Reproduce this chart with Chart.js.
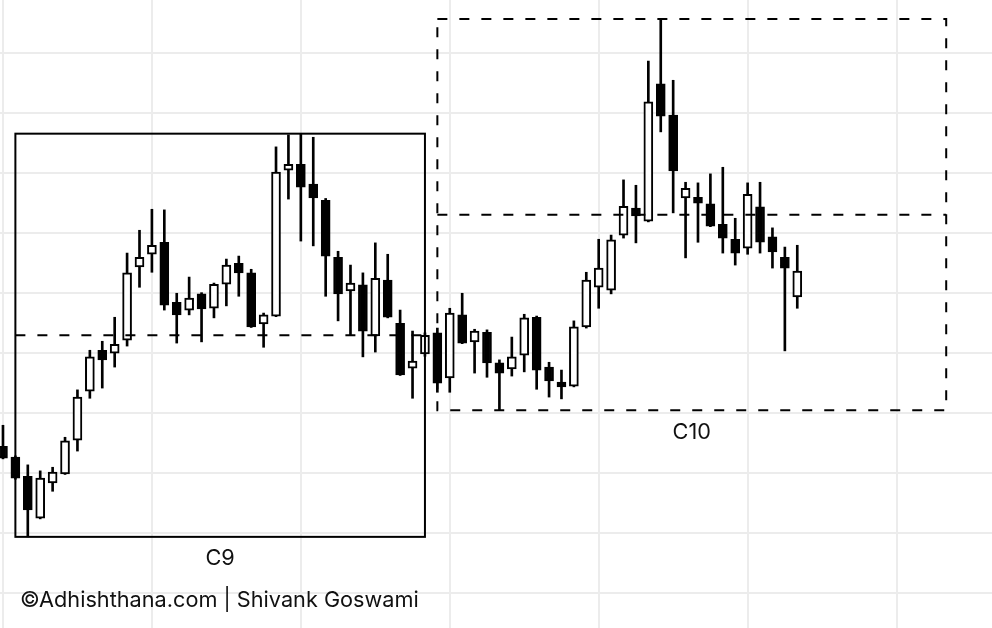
<!DOCTYPE html>
<html>
<head>
<meta charset="utf-8">
<script src="https://cdn.jsdelivr.net/npm/chart.js@4.4.1/dist/chart.umd.min.js"></script>
<style>
  html, body { margin: 0; padding: 0; background: #fff; }
  #wrap { width: 992px; height: 628px; position: relative; }
</style>
</head>
<body>
<div id="wrap"><canvas id="cycleChart"></canvas></div>
<script>
// OHLC per candle (price units)
const opens = [34.4, 32.6, 29.4, 22.4, 28.3, 29.8, 35.4, 43.6, 50.4, 49.9,
  52.1, 64.3, 66.4, 68.4, 58.4, 57.1, 59.8, 57.4, 61.4, 64.9,
  63.3, 54.8, 56.1, 80.4, 81.4, 78.1, 75.4, 65.9, 60.3, 61.3,
  52.8, 62.1, 54.9, 47.4, 49.8, 53.3, 45.8, 56.3, 51.8, 53.4,
  48.3, 47.3, 49.6, 55.9, 47.6, 45.1, 44.4, 54.3, 60.9, 60.4,
  69.6, 74.1, 71.9, 94.8, 89.6, 75.8, 75.9, 74.8, 71.4, 68.9,
  67.4, 74.3, 69.3, 65.9, 59.3];
const highs = [37.9, 32.8, 31.3, 30.3, 30.9, 35.9, 43.8, 50.4, 51.9, 55.9,
  66.6, 70.4, 73.9, 73.8, 59.9, 62.6, 60.0, 61.6, 65.6, 66.1,
  63.9, 56.6, 84.3, 86.3, 86.5, 85.9, 75.7, 66.9, 64.6, 63.3,
  68.3, 66.4, 57.1, 53.6, 53.3, 54.1, 57.4, 59.9, 53.9, 53.8,
  48.8, 52.6, 56.4, 56.1, 48.4, 47.1, 55.3, 63.4, 68.9, 69.6,
  78.8, 77.9, 98.6, 105.6, 95.4, 78.4, 78.3, 79.8, 80.9, 72.4,
  78.3, 78.4, 70.8, 67.6, 67.9];
const lows = [32.3, 28.9, 19.3, 22.3, 26.9, 29.7, 33.6, 42.4, 44.1, 47.6,
  51.1, 60.9, 63.4, 57.1, 51.6, 56.3, 51.8, 55.8, 57.8, 59.4,
  54.2, 50.9, 56.0, 75.6, 68.6, 67.8, 59.4, 55.3, 52.9, 49.3,
  50.1, 55.8, 46.2, 42.4, 49.4, 43.4, 43.4, 51.5, 46.6, 45.9,
  40.4, 46.1, 46.8, 43.9, 42.6, 42.3, 44.3, 54.1, 57.4, 59.8,
  69.1, 68.3, 71.8, 86.8, 73.3, 65.8, 68.4, 71.0, 66.6, 64.6,
  66.4, 66.6, 64.1, 50.3, 57.4];
const closes = [32.4, 29.1, 23.8, 29.1, 30.1, 35.3, 42.6, 49.3, 48.8, 51.4,
  63.3, 65.9, 67.9, 57.9, 56.3, 59.1, 57.3, 61.4, 64.6, 63.3,
  54.3, 56.3, 80.1, 81.4, 77.6, 75.8, 66.1, 59.8, 61.6, 53.6,
  62.4, 55.9, 46.3, 48.6, 52.9, 44.9, 56.6, 51.6, 53.6, 48.3,
  46.6, 49.3, 55.8, 47.1, 45.3, 44.3, 54.3, 62.1, 64.1, 68.8,
  74.4, 72.8, 91.8, 89.4, 80.3, 77.4, 74.9, 71.1, 69.1, 66.6,
  76.4, 68.4, 66.8, 64.1, 63.6];

// cycles: first and last candle index of each box
const cycleNames = ["C9", "C10"];
const cycleStart = [1, 35];
const cycleEnd = [34, 76];
const cycleSolid = [true, false];

// grid positions
const gridX = [0, 12, 24, 36, 48, 60, 72];
const gridY = [10, 20, 30, 40, 50, 60, 70, 80, 90, 100];

const wicks = opens.map((o, i) => ({ x: i, y: [lows[i], highs[i]] }));
const bodies = opens.map((o, i) => ({ x: i, y: [o, closes[i]] }));
const isUp = i => closes[i] >= opens[i];

const cycleBoxes = {
  id: "cycleBoxes",
  afterDatasetsDraw(chart) {
    const { ctx, scales: { x, y } } = chart;
    ctx.save();
    ctx.strokeStyle = "#000";
    ctx.lineWidth = 2;
    ctx.fillStyle = "#111";
    ctx.font = '21.7px Inter, "Liberation Sans", sans-serif';
    cycleNames.forEach((name, k) => {
      const last = Math.min(cycleEnd[k], highs.length - 1);
      const hi = Math.max(...highs.slice(cycleStart[k], last + 1));
      const lo = Math.min(...lows.slice(cycleStart[k], last + 1));
      const left = x.getPixelForValue(cycleStart[k]);
      const right = x.getPixelForValue(cycleEnd[k]);
      const top = y.getPixelForValue(hi);
      const bottom = y.getPixelForValue(lo);
      const mid = y.getPixelForValue((hi + lo) / 2);

      ctx.setLineDash(cycleSolid[k] ? [] : [10, 12]);
      ctx.strokeRect(left, top, right - left, bottom - top);
      ctx.setLineDash([10, 12]);
      ctx.beginPath();
      ctx.moveTo(left, mid);
      ctx.lineTo(right, mid);
      ctx.stroke();
      ctx.setLineDash([]);

      ctx.textAlign = "center";
      ctx.textBaseline = "middle";
      ctx.fillText(name, (left + right) / 2, bottom + 22);
    });
    ctx.textAlign = "left";
    ctx.textBaseline = "middle";
    ctx.fillText("\u00A9Adhishthana.com | Shivank Goswami", 20, 600);
    ctx.restore();
  }
};

new Chart(document.getElementById("cycleChart"), {
  type: "bar",
  data: {
    datasets: [
      {
        label: "Body",
        data: bodies,
        order: 1,
        grouped: false,
        barThickness: 9,
        borderWidth: 2,
        borderColor: "#000",
        borderSkipped: false,
        backgroundColor: c => (isUp(c.dataIndex) ? "#fff" : "#000"),
      },
      {
        label: "Wick",
        data: wicks,
        order: 2,
        grouped: false,
        barThickness: 2,
        borderWidth: 0,
        backgroundColor: "#000",
      },
    ],
  },
  options: {
    responsive: true,
    maintainAspectRatio: false,
    animation: false,
    layout: { padding: 0 },
    plugins: { legend: { display: false }, tooltip: { enabled: false } },
    scales: {
      x: {
        type: "linear",
        min: -0.24,
        max: 79.69,
        offset: false,
        grid: { color: "#ececec", lineWidth: 2, drawTicks: false, offset: false },
        border: { display: false },
        ticks: { display: false },
        afterBuildTicks: s => { s.ticks = gridX.map(v => ({ value: v })); },
      },
      y: {
        min: 4.11,
        max: 108.78,
        grid: { color: "#ececec", lineWidth: 2, drawTicks: false },
        border: { display: false },
        ticks: { display: false },
        afterBuildTicks: s => { s.ticks = gridY.map(v => ({ value: v })); },
      },
    },
  },
  plugins: [cycleBoxes],
});
</script>
</body>
</html>
